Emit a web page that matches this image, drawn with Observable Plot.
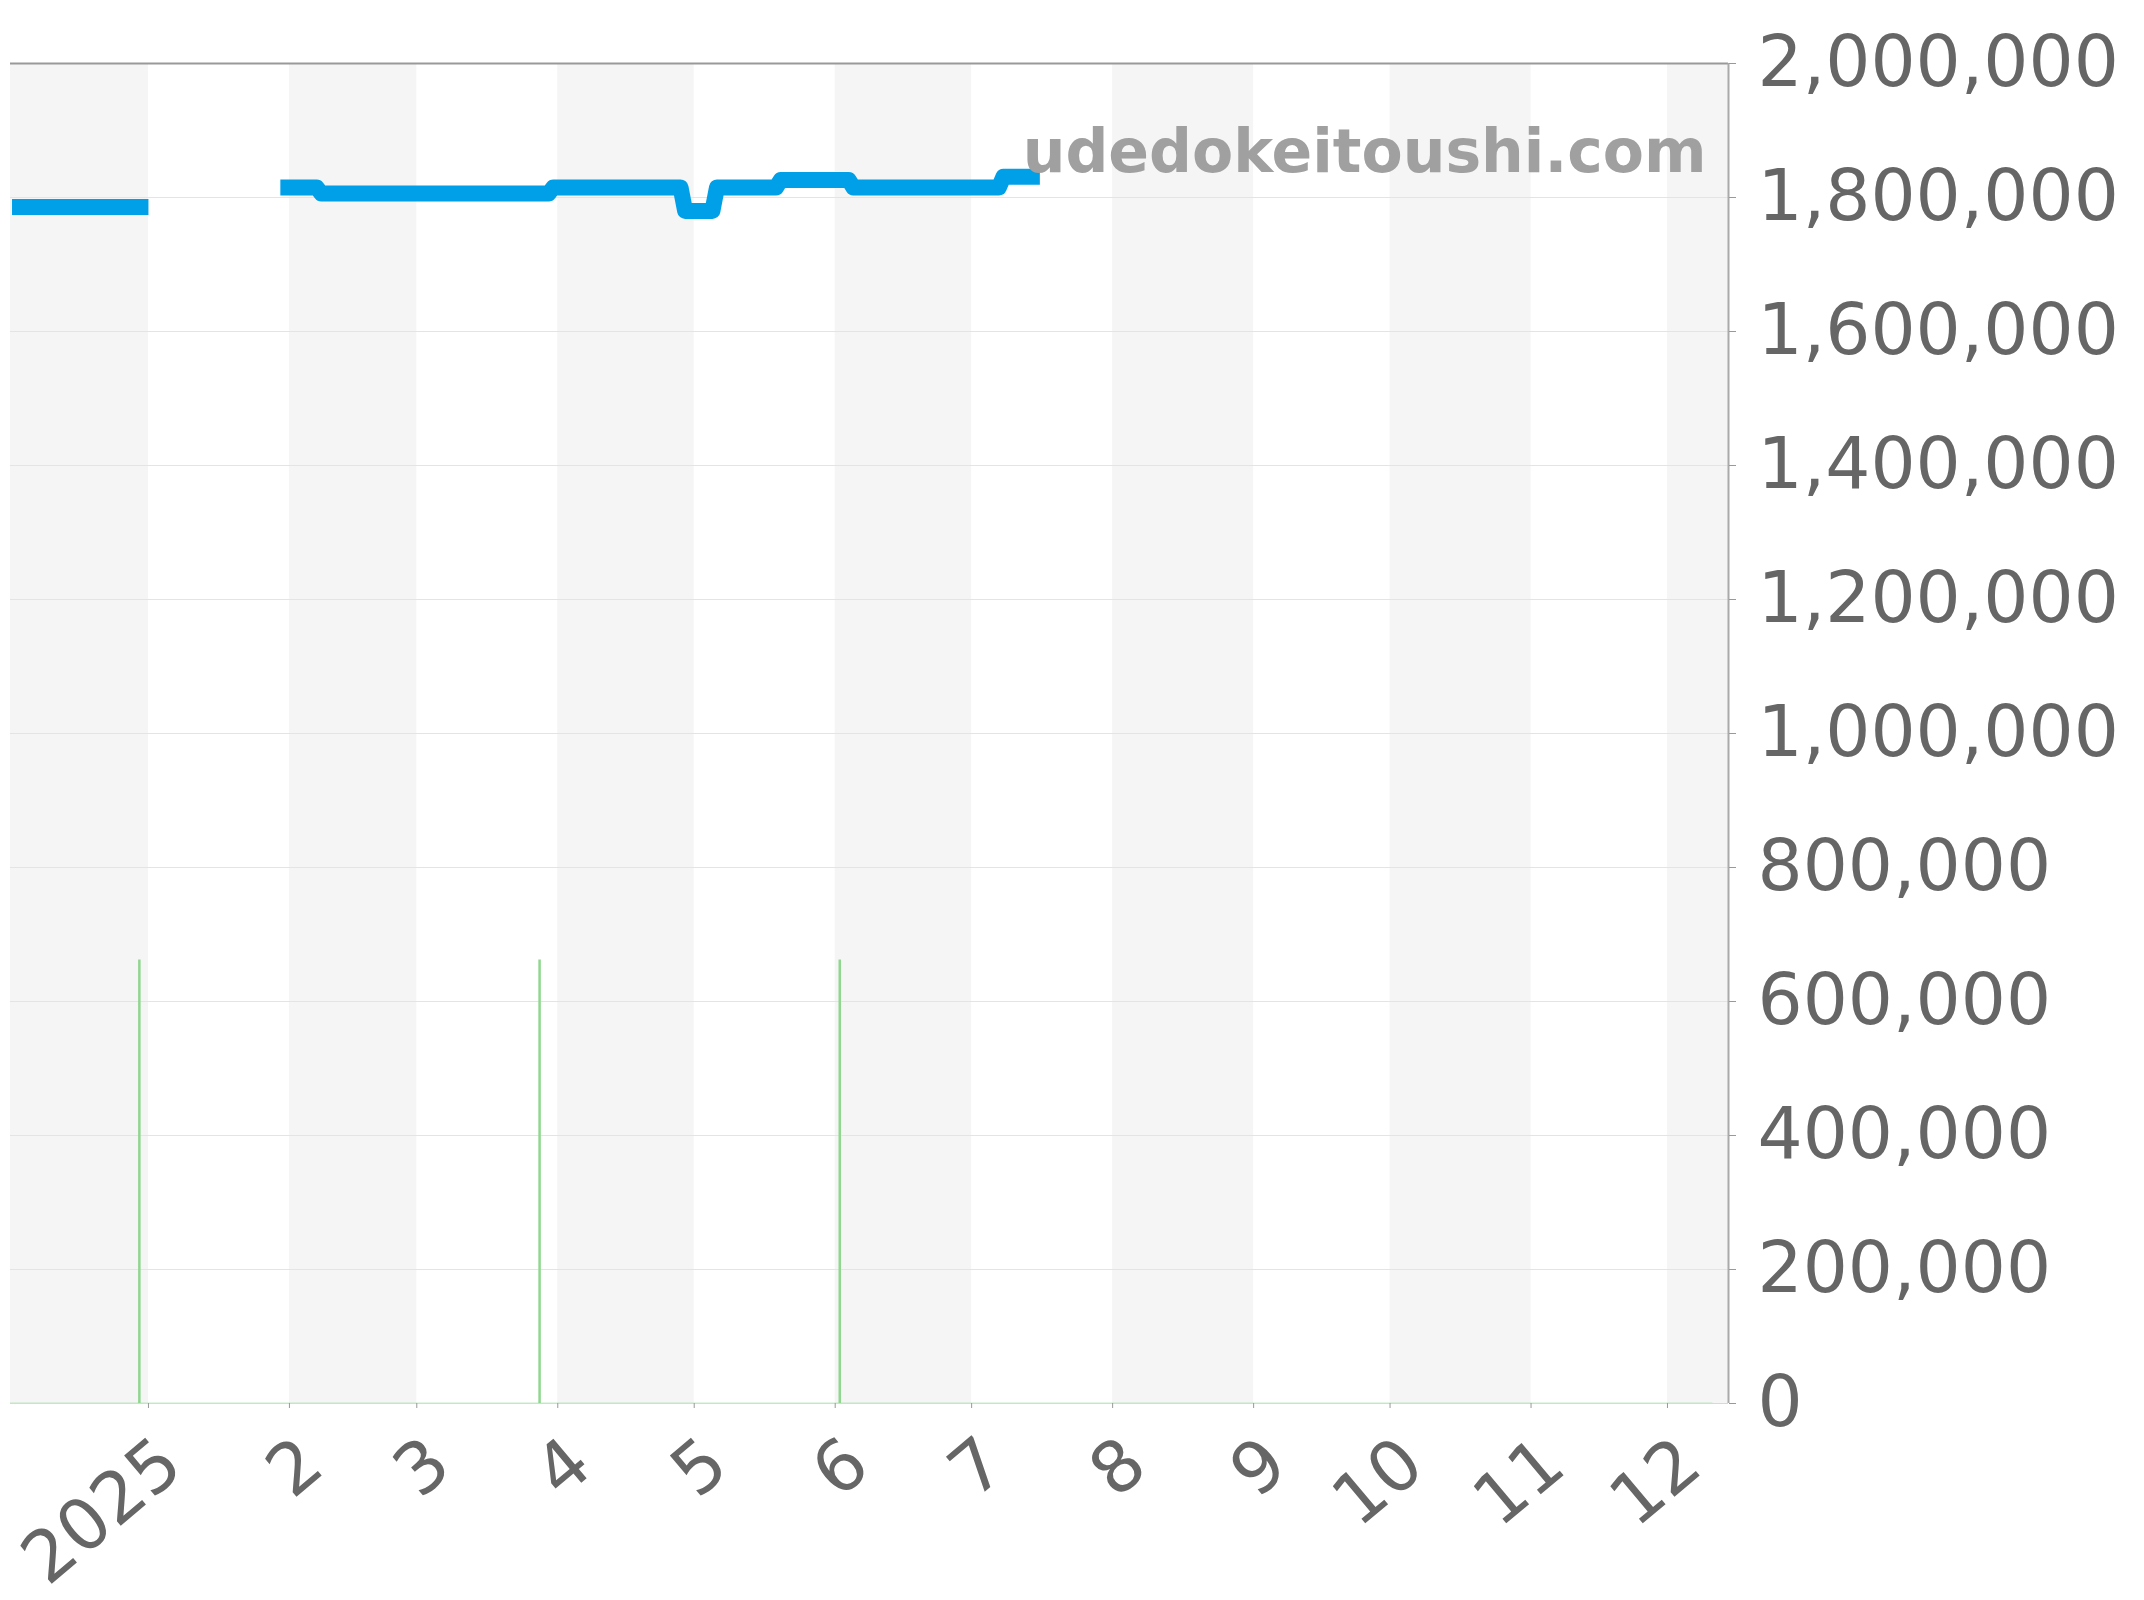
<!DOCTYPE html>
<html>
<head>
<meta charset="utf-8">
<script src="https://cdn.jsdelivr.net/npm/d3@7"></script>
<script src="https://cdn.jsdelivr.net/npm/@observablehq/plot@0.6"></script>
<style>
  html, body { margin: 0; padding: 0; background: #ffffff; }
  #chart { width: 2144px; height: 1600px; }
</style>
</head>
<body>
<div id="chart"></div>
<script>
// ---- price series (null = gap in the line) ----
const priceDates = [
  "2024-12-02", "2025-01-01", "2025-01-15",
  "2025-01-30", "2025-02-07", "2025-02-08", "2025-03-30", "2025-03-31",
  "2025-04-28", "2025-04-29", "2025-05-05", "2025-05-06",
  "2025-05-19", "2025-05-20", "2025-06-04", "2025-06-05",
  "2025-07-07", "2025-07-08", "2025-07-16"
];
const priceValues = [
  1786000, 1786000, null,
  1815000, 1815000, 1806000, 1806000, 1815000,
  1815000, 1780000, 1780000, 1815000,
  1815000, 1826000, 1826000, 1815000,
  1815000, 1831000, 1831000
];

// ---- green spikes ----
const volumeDates = ["2024-12-30", "2025-03-28", "2025-06-02"];
const volumeValues = [662000, 662000, 662000];
const greenSpan = ["2024-12-01", "2025-12-11"];

// ---- axes ----
const monthTickDates = [
  "2025-01-01", "2025-02-01", "2025-03-01", "2025-04-01", "2025-05-01", "2025-06-01",
  "2025-07-01", "2025-08-01", "2025-09-01", "2025-10-01", "2025-11-01", "2025-12-01"
];
const monthTickLabels = ["2025", "2", "3", "4", "5", "6", "7", "8", "9", "10", "11", "12"];
const yTicks = [0, 200000, 400000, 600000, 800000, 1000000, 1200000, 1400000, 1600000, 1800000, 2000000];
const xDomain = ["2024-12-01T16:00:00Z", "2025-12-14T10:00:00Z"];

// ---- shaded month bands ----
const bandStarts = ["2024-12-01", "2025-02-01", "2025-04-01", "2025-06-01", "2025-08-01", "2025-10-01", "2025-12-01"];
const bandEnds   = ["2025-01-01", "2025-03-01", "2025-05-01", "2025-07-01", "2025-09-01", "2025-11-01", "2026-01-01"];

const watermark = "udedokeitoushi.com";

// ---- build tables ----
const price = priceDates.map((d, i) => ({date: new Date(d), value: priceValues[i]}));
const volume = volumeDates.map((d, i) => ({date: new Date(d), value: volumeValues[i]}));
const bands = bandStarts.map((d, i) => ({start: new Date(d), end: new Date(bandEnds[i])}));
const tickDates = monthTickDates.map(d => new Date(d));
const tickRows = monthTickDates.map((d, i) => ({date: new Date(d), label: monthTickLabels[i]}));
const xDom = xDomain.map(d => new Date(d));
const green = "#8fd68f";
const blue = "#00a0e9";

const chart = Plot.plot({
  width: 2144,
  height: 1600,
  marginLeft: 10,
  marginRight: 416,
  marginTop: 63,
  marginBottom: 197,
  style: {fontFamily: "DejaVu Sans", background: "#ffffff"},
  x: {type: "utc", domain: xDom},
  y: {domain: [0, 2000000]},
  marks: [
    Plot.rect(bands, {x1: "start", x2: "end", fill: "#f5f5f5", clip: true}),
    Plot.gridY(yTicks, {stroke: "#e4e4e4", strokeOpacity: 1, strokeWidth: 1}),
    Plot.ruleY([0], {stroke: "#d8d8d8", strokeWidth: 1}),
    Plot.ruleY([{y: 0, x1: new Date(greenSpan[0]), x2: new Date(greenSpan[1])}],
      {y: "y", x1: "x1", x2: "x2", stroke: green, strokeWidth: 1.5, clip: true}),
    Plot.ruleX(volume, {x: "date", y1: 0, y2: "value", stroke: green, strokeWidth: 2.5}),
    Plot.line(price, {x: "date", y: "value", stroke: blue, strokeWidth: 16,
      strokeLinecap: "butt", strokeLinejoin: "round", curve: "linear"}),
    Plot.ruleY([2000000], {stroke: "#999999", strokeWidth: 2}),
    Plot.ruleX([xDom[1]], {stroke: "#aaaaaa", strokeWidth: 2}),
    // y axis: ticks then labels
    Plot.axisY({anchor: "right", ticks: yTicks, tickSize: 7, tickFormat: () => "", stroke: "#999999"}),
    Plot.axisY({anchor: "right", ticks: yTicks, tickSize: 0, tickPadding: 29,
      tickFormat: d3.format(","), fontSize: 71, fill: "#666666"}),
    // x axis: ticks then rotated labels
    Plot.axisX({ticks: tickDates, tickSize: 5, tickFormat: () => "", stroke: "#999999"}),
    Plot.text(tickRows, {x: "date", y: () => 0, text: "label", rotate: -40,
      textAnchor: "end", lineAnchor: "middle", dx: 23, dy: 50,
      fontSize: 71, fill: "#666666"}),
    Plot.text([watermark], {frameAnchor: "top-right", text: d => d, dx: -22, dy: 66,
      lineAnchor: "top", textAnchor: "end", fontSize: 60, fontWeight: "bold", fill: "#a0a0a0"})
  ]
});
document.getElementById("chart").appendChild(chart);
</script>
</body>
</html>
